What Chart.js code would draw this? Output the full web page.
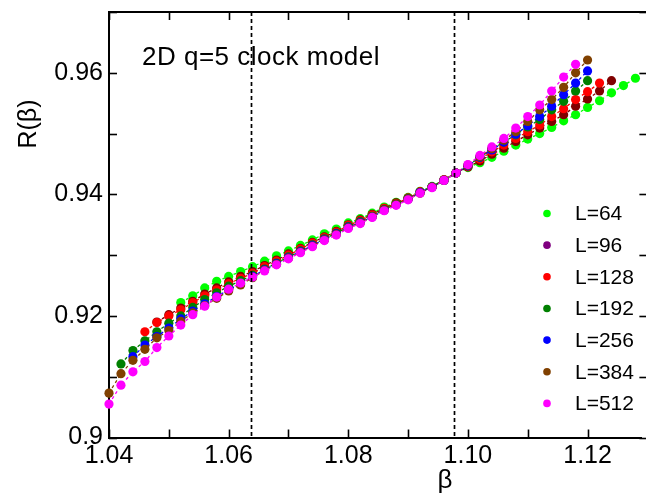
<!DOCTYPE html>
<html>
<head>
<meta charset="utf-8">
<script src="https://cdn.jsdelivr.net/npm/chart.js@4"></script>
<style>
html,body{margin:0;padding:0;background:#fff;overflow:hidden;}
canvas{display:block;}
</style>
</head>
<body>
<canvas id="c" width="646" height="498"></canvas>
<script>
// ---- data ----
const betas = [1.040,1.042,1.044,1.046,1.048,1.050,1.052,1.054,1.056,1.058,
               1.060,1.062,1.064,1.066,1.068,1.070,1.072,1.074,1.076,1.078,
               1.080,1.082,1.084,1.086,1.088,1.090,1.092,1.094,1.096,1.098,
               1.100,1.102,1.104,1.106,1.108,1.110,1.112,1.114,1.116,1.118,
               1.120,1.122,1.124,1.126,1.128];

const seriesLabels = ["L=64","L=96","L=128","L=192","L=256","L=384","L=512"];

const rL64 = [null,null,null,null,null,null,
  0.9222,0.9233,0.9246,0.9257,0.9265,0.9273,0.9281,0.9290,0.9299,0.9307,
  0.9316,0.9325,0.9335,0.9343,0.9353,0.9360,0.9369,0.9379,0.9387,0.9395,
  0.9405,0.9413,0.9424,0.9435,0.9444,0.9452,0.9461,0.9471,0.9481,0.9491,
  0.9500,0.9510,0.9521,0.9531,0.9543,0.9554,0.9567,0.9579,0.9591];

const rL96 = [null,null,null,null,
  0.9190,0.9202,0.9213,0.9224,0.9236,0.9246,0.9256,0.9265,0.9273,0.9283,
  0.9292,0.9302,0.9311,0.9321,0.9330,0.9339,0.9350,0.9358,0.9367,0.9377,
  0.9386,0.9394,0.9404,0.9412,0.9424,0.9435,0.9445,0.9455,0.9466,0.9476,
  0.9487,0.9498,0.9509,0.9520,0.9531,0.9545,0.9557,0.9570,0.9587,null,null];

const rL128 = [null,null,null,
  0.9174,0.9189,0.9200,0.9210,0.9222,0.9233,0.9243,0.9253,0.9262,0.9270,
  0.9281,0.9290,0.9300,0.9310,0.9320,0.9329,0.9338,0.9349,0.9357,0.9366,
  0.9377,0.9385,0.9394,0.9404,0.9412,0.9424,0.9435,0.9446,0.9458,0.9470,
  0.9481,0.9492,0.9503,0.9514,0.9528,0.9541,0.9556,0.9569,0.9583,null,null,null];

const rL192 = [null,
  0.9121,0.9143,0.9159,0.9174,0.9188,0.9200,0.9214,0.9227,0.9238,0.9249,
  0.9258,0.9267,0.9277,0.9287,0.9297,0.9307,0.9317,0.9327,0.9336,0.9347,
  0.9355,0.9364,0.9375,0.9384,0.9393,0.9403,0.9412,0.9423,0.9435,0.9447,
  0.9461,0.9474,0.9486,0.9498,0.9511,0.9523,0.9539,0.9553,0.9570,0.9587,
  null,null,null,null];

const rL256 = [null,null,
  0.9133,0.9152,0.9166,0.9180,0.9195,0.9208,0.9220,0.9232,0.9243,0.9253,
  0.9265,0.9276,0.9286,0.9296,0.9306,0.9316,0.9326,0.9335,0.9346,0.9354,
  0.9363,0.9374,0.9383,0.9392,0.9403,0.9412,0.9423,0.9435,0.9447,0.9461,
  0.9473,0.9486,0.9499,0.9513,0.9528,0.9545,0.9564,0.9583,0.9603,
  null,null,null,null];

const rL384 = [
  0.9073,0.9105,0.9127,0.9145,0.9164,0.9176,0.9191,0.9205,0.9217,0.9229,
  0.9241,0.9251,0.9263,0.9275,0.9285,0.9295,0.9305,0.9315,0.9325,0.9334,
  0.9345,0.9353,0.9363,0.9374,0.9383,0.9392,0.9402,0.9412,0.9423,0.9435,
  0.9448,0.9462,0.9475,0.9489,0.9503,0.9520,0.9539,0.9556,0.9576,0.9600,
  0.9621,null,null,null,null];

const rL512 = [
  0.9055,0.9086,0.9108,0.9125,0.9148,0.9167,0.9185,0.9202,0.9216,0.9231,
  0.9244,0.9254,0.9264,0.9274,0.9284,0.9294,0.9304,0.9314,0.9324,0.9333,
  0.9344,0.9352,0.9362,0.9373,0.9382,0.9391,0.9402,0.9411,0.9423,0.9435,
  0.9449,0.9464,0.9478,0.9492,0.9509,0.9528,0.9547,0.9570,0.9593,0.9614,
  null,null,null,null,null];

const seriesValues = [rL64, rL96, rL128, rL192, rL256, rL384, rL512];
const pointColors  = ["#00ff00","#800000","#ff0000","#008000","#0000ff","#804000","#ff00ff"];
const legendColors = ["#00ff00","#800080","#ff0000","#008000","#0000ff","#804000","#ff00ff"];

const xTickLabels = [1.04, 1.06, 1.08, 1.10, 1.12];
const yTickLabels = [0.90, 0.92, 0.94, 0.96];
const xTickMarks = [1.04,1.05,1.06,1.07,1.08,1.09,1.10,1.11,1.12,1.13];
const yTickMarks = [0.90,0.91,0.92,0.93,0.94,0.95,0.96,0.97];
const criticalBetas = [1.0638, 1.0977];
const chartTitle = "2D q=5 clock model";
const xTitle = "β";
const yTitle = "R(β)";

// ---- chart ----
const FONT = "'Liberation Sans', Arial, Helvetica, sans-serif";
Chart.defaults.font.family = FONT;
Chart.defaults.color = "#000";

const datasets = seriesValues.map((vals, i) => ({
  label: seriesLabels[i],
  data: betas.map((b, k) => vals[k] === null ? null : {x: b, y: vals[k]}).filter(p => p !== null),
  borderColor: pointColors[i],
  backgroundColor: pointColors[i],
  pointBackgroundColor: pointColors[i],
  pointBorderWidth: 0,
  pointRadius: 4.6,
  borderWidth: 1.3,
  borderDash: [3, 3],
  showLine: true,
  tension: 0,
  clip: false,
  order: seriesValues.length - 1 - i
}));

function noPad(s) { s.paddingTop = 0; s.paddingBottom = 0; s.paddingLeft = 0; s.paddingRight = 0; }

const decor = {
  id: 'decor',
  afterDatasetsDraw(chart) {
    const {ctx, chartArea: a, scales: {x}} = chart;
    ctx.save();
    ctx.strokeStyle = "#000";
    ctx.lineWidth = 1.7;
    ctx.setLineDash([4, 3]);
    criticalBetas.forEach(b => {
      const px = Math.round(x.getPixelForValue(b)) + 0.5;
      ctx.beginPath(); ctx.moveTo(px, a.top); ctx.lineTo(px, a.bottom); ctx.stroke();
    });
    ctx.restore();
  },
  afterDraw(chart) {
    const {ctx, chartArea: a, scales: {x, y}} = chart;
    ctx.save();
    ctx.strokeStyle = "#000";
    ctx.lineWidth = 2;
    ctx.beginPath(); ctx.moveTo(a.left - 1, a.top); ctx.lineTo(chart.width, a.top); ctx.stroke();
    ctx.lineWidth = 1.6;
    const rightAxis = x.getPixelForValue(1.13);
    xTickMarks.forEach(v => {
      const px = Math.round(x.getPixelForValue(v)) + 0.5;
      ctx.beginPath(); ctx.moveTo(px, a.bottom); ctx.lineTo(px, a.bottom - 8); ctx.stroke();
      ctx.beginPath(); ctx.moveTo(px, a.top); ctx.lineTo(px, a.top + 8); ctx.stroke();
    });
    yTickMarks.forEach(v => {
      const py = Math.round(y.getPixelForValue(v)) + 0.5;
      ctx.beginPath(); ctx.moveTo(a.left, py); ctx.lineTo(a.left + 8, py); ctx.stroke();
      ctx.beginPath(); ctx.moveTo(rightAxis, py); ctx.lineTo(rightAxis - 8, py); ctx.stroke();
    });
    ctx.fillStyle = "#000";
    ctx.textBaseline = "alphabetic";
    ctx.textAlign = "left";
    ctx.font = "26px " + FONT;
    if ('letterSpacing' in ctx) ctx.letterSpacing = "0.5px";
    ctx.fillText(chartTitle, 142, 65);
    if ('letterSpacing' in ctx) ctx.letterSpacing = "0px";
    ctx.textAlign = "center";
    ctx.fillText(xTitle, 445, 488);
    ctx.save();
    ctx.translate(36, 124);
    ctx.rotate(-Math.PI / 2);
    ctx.font = "25px " + FONT;
    ctx.fillText(yTitle, 0, 0);
    ctx.restore();
    ctx.textAlign = "left";
    ctx.textBaseline = "middle";
    ctx.font = "21px " + FONT;
    seriesLabels.forEach((lab, i) => {
      const cy = 213.5 + i * 31.65;
      ctx.fillStyle = legendColors[i];
      ctx.beginPath(); ctx.arc(547, cy, 3.8, 0, Math.PI * 2); ctx.fill();
      ctx.fillStyle = "#000";
      ctx.fillText(lab, 575, cy + 1);
    });
    ctx.restore();
  }
};

new Chart(document.getElementById('c'), {
  type: 'line',
  data: { datasets },
  options: {
    responsive: false,
    animation: false,
    devicePixelRatio: 1,
    layout: { padding: { left: 0, top: 12, right: 0, bottom: 0 } },
    plugins: { legend: { display: false }, tooltip: { enabled: false } },
    scales: {
      x: {
        type: 'linear',
        min: 1.04, max: 1.129,
        afterFit(s) { s.height = 60.5; noPad(s); },
        afterBuildTicks(s) { s.ticks = xTickLabels.map(v => ({value: v})); },
        ticks: {
          font: { size: 25 }, color: "#000", padding: 4,
          maxRotation: 0, autoSkip: false,
          callback: v => Number(v).toFixed(2)
        },
        grid: { display: true, drawOnChartArea: false, drawTicks: false, color: "rgba(0,0,0,0)" },
        border: { display: true, color: "#000", width: 2 }
      },
      y: {
        type: 'linear',
        min: 0.9, max: 0.97,
        afterFit(s) { s.width = 109; noPad(s); },
        afterBuildTicks(s) { s.ticks = yTickLabels.map(v => ({value: v})); },
        ticks: {
          font: { size: 25 }, color: "#000", padding: 6, autoSkip: false,
          callback: v => (Math.abs(v - 0.9) < 1e-6 ? "0.9" : Number(v).toFixed(2))
        },
        grid: { display: true, drawOnChartArea: false, drawTicks: false, color: "rgba(0,0,0,0)" },
        border: { display: true, color: "#000", width: 2 }
      }
    }
  },
  plugins: [decor]
});
</script>
</body>
</html>
